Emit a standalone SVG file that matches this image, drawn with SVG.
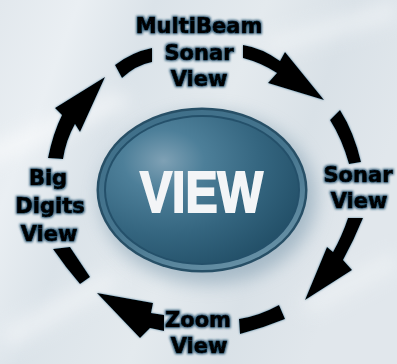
<svg xmlns="http://www.w3.org/2000/svg" width="397" height="364" viewBox="0 0 397 364">
  <defs>
    <linearGradient id="bg" x1="0" y1="0" x2="1" y2="0.35">
      <stop offset="0" stop-color="#e2e8ed"/>
      <stop offset="0.18" stop-color="#eaeff3"/>
      <stop offset="0.35" stop-color="#dbe3e9"/>
      <stop offset="0.6" stop-color="#e4eaee"/>
      <stop offset="0.8" stop-color="#d9e1e7"/>
      <stop offset="1" stop-color="#e1e7ec"/>
    </linearGradient>
    <filter id="soft" x="-50%" y="-50%" width="200%" height="200%">
      <feGaussianBlur stdDeviation="9"/>
    </filter>
    <filter id="halo" x="-20%" y="-20%" width="140%" height="140%">
      <feMorphology in="SourceAlpha" operator="dilate" radius="0.6" result="d"/>
      <feGaussianBlur in="d" stdDeviation="1.1" result="b"/>
      <feFlood flood-color="#1c4a68" flood-opacity="0.85"/>
      <feComposite in2="b" operator="in" result="g"/>
      <feMerge>
        <feMergeNode in="g"/>
        <feMergeNode in="SourceGraphic"/>
      </feMerge>
    </filter>
    <filter id="edge" x="-20%" y="-20%" width="140%" height="140%">
      <feGaussianBlur in="SourceAlpha" stdDeviation="0.9" result="b"/>
      <feFlood flood-color="#2a6080" flood-opacity="0.7"/>
      <feComposite in2="b" operator="in" result="g"/>
      <feMerge>
        <feMergeNode in="g"/>
        <feMergeNode in="SourceGraphic"/>
      </feMerge>
    </filter>
    <linearGradient id="rim" x1="0.2" y1="0" x2="0.8" y2="1">
      <stop offset="0" stop-color="#3f6f89"/>
      <stop offset="0.5" stop-color="#46758e"/>
      <stop offset="1" stop-color="#6a93a8"/>
    </linearGradient>
    <radialGradient id="dome" cx="0.3" cy="0.3" r="0.85">
      <stop offset="0" stop-color="#7fa1b5"/>
      <stop offset="0.25" stop-color="#4d7f99"/>
      <stop offset="0.6" stop-color="#34657f"/>
      <stop offset="1" stop-color="#1f4b63"/>
    </radialGradient>
    <style>
      .lbl { font-family: "DejaVu Sans", "Liberation Sans", sans-serif; font-weight: bold; font-size: 21px; fill: #000; stroke: #000; stroke-width: 0.7px; text-anchor: middle; }
      .ring { fill: #000; }
    </style>
  </defs>

  <!-- brushed metal backdrop -->
  <rect width="397" height="364" fill="url(#bg)"/>
  <g opacity="0.55" filter="url(#soft)">
    <path d="M-20,150 L120,90 L130,105 L-20,170 Z" fill="#ffffff"/>
    <path d="M0,330 L110,270 L120,285 L10,350 Z" fill="#f7f9fb"/>
    <path d="M260,40 L397,0 L397,20 L270,55 Z" fill="#f5f8fa"/>
    <path d="M300,300 L397,250 L397,270 L310,315 Z" fill="#f3f6f8"/>
  </g>

  <!-- centre button -->
  <g id="view-button">
    <ellipse cx="208" cy="198" rx="108" ry="86" fill="#7896aa" opacity="0.55" filter="url(#soft)"/>
    <ellipse cx="202" cy="190" rx="105.5" ry="82.5" fill="#274f66"/>
    <ellipse cx="202" cy="190" rx="103" ry="80" fill="url(#rim)"/>
    <ellipse cx="202" cy="190" rx="98" ry="75" fill="#24506a"/>
    <ellipse cx="202" cy="190" rx="96" ry="73" fill="url(#dome)"/>
    <text x="140" y="212" textLength="123" lengthAdjust="spacingAndGlyphs" font-family="'Liberation Sans', Arial, sans-serif" font-weight="bold" font-size="58" fill="#f3f5f7" stroke="#f3f5f7" stroke-width="2">VIEW</text>
  </g>

  <!-- cycle of dashes and arrows -->
  <g id="connectors" class="ring" filter="url(#edge)">
    <path d="M115,65 Q132,52 152,48 L152,62 Q136,65 122,78 Z"/>
    <path d="M243,45 Q262,48 280,61 L285,52 L324,100 L268,83 L277,73 Q262,63 243,58 Z"/>
    <path d="M330,120 L340,110 Q354,132 361,162 L349,164 Q342,139 330,120 Z"/>
    <path d="M348,218 Q342,236 333,252 L327,247 L305,300 L352,270 L343,260 Q354,240 363,218 Z"/>
    <path d="M239,319 Q259,316 279,305 L285,319 Q263,328 240,334 Z"/>
    <path d="M97,293 L153,303 L151,313 L164,315 L164,331 L150,328 L140,338 Z"/>
    <path d="M53,249 L70,247 Q80,262 90,277 L80,284 Q66,268 53,249 Z"/>
    <path d="M48,158 Q53,133 62,115 L55,108 L105,77 L80,132 L75,124 Q66,140 63,159 Z"/>
  </g>

  <g id="multibeam-sonar-view" filter="url(#halo)">
    <text class="lbl" x="199" y="33">MultiBeam</text>
    <text class="lbl" x="199" y="60">Sonar</text>
    <text class="lbl" x="199" y="86">View</text>
  </g>
  <g id="sonar-view" filter="url(#halo)">
    <text class="lbl" x="358" y="182">Sonar</text>
    <text class="lbl" x="359" y="208">View</text>
  </g>
  <g id="zoom-view" filter="url(#halo)">
    <text class="lbl" x="198" y="327">Zoom</text>
    <text class="lbl" x="199" y="353">View</text>
  </g>
  <g id="big-digits-view" filter="url(#halo)">
    <text class="lbl" x="48" y="185">Big</text>
    <text class="lbl" x="50" y="213">Digits</text>
    <text class="lbl" x="49" y="241">View</text>
  </g>
</svg>
